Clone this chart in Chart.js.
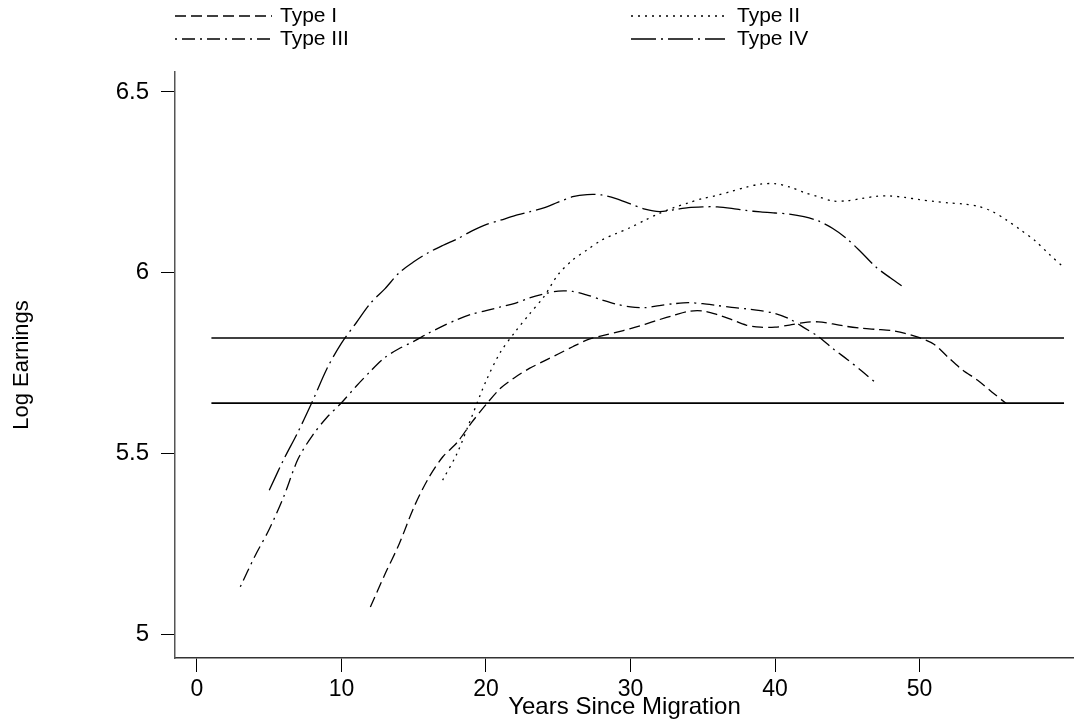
<!DOCTYPE html>
<html>
<head>
<meta charset="utf-8">
<script src="https://cdn.jsdelivr.net/npm/chart.js@4"></script>
<style>
  html, body { margin: 0; padding: 0; background: #fff; }
  #wrap { width: 1074px; height: 724px; }
</style>
</head>
<body>
<div id="wrap"><canvas id="grafico"></canvas></div>
<script>
// años desde la migración (inicio de cada curva)
const inicioTipo1 = 12;
const inicioTipo2 = 17;
const inicioTipo3 = 3;
const inicioTipo4 = 5;

// log earnings, un valor por año
const tipo1 = [5.075, 5.165, 5.25, 5.35, 5.43, 5.49, 5.53, 5.585, 5.635, 5.68,
    5.71, 5.735, 5.755, 5.775, 5.795, 5.814, 5.825, 5.835, 5.845, 5.857,
    5.87, 5.882, 5.893, 5.894, 5.884, 5.87, 5.855, 5.849, 5.849, 5.855,
    5.862, 5.864, 5.858, 5.851, 5.846, 5.843, 5.84, 5.832, 5.82, 5.802,
    5.765, 5.73, 5.703, 5.67, 5.638];
const tipo2 = [5.426, 5.5, 5.6, 5.7, 5.78, 5.835, 5.885, 5.933, 5.995, 6.035,
    6.063, 6.09, 6.108, 6.125, 6.145, 6.164, 6.18, 6.193, 6.205, 6.214,
    6.225, 6.236, 6.245, 6.246, 6.237, 6.222, 6.21, 6.198, 6.199, 6.205,
    6.211, 6.212, 6.208, 6.202, 6.197, 6.193, 6.19, 6.184, 6.17, 6.146,
    6.118, 6.088, 6.05, 6.014];
const tipo3 = [5.131, 5.215, 5.29, 5.38, 5.485, 5.55, 5.6, 5.64, 5.685, 5.727,
    5.765, 5.79, 5.81, 5.832, 5.852, 5.87, 5.885, 5.895, 5.905, 5.915,
    5.93, 5.941, 5.949, 5.948, 5.938, 5.925, 5.913, 5.905, 5.903, 5.909,
    5.914, 5.917, 5.914, 5.909, 5.904, 5.9, 5.895, 5.887, 5.872, 5.848,
    5.823, 5.79, 5.76, 5.728, 5.694];
const tipo4 = [5.398, 5.483, 5.56, 5.645, 5.735, 5.805, 5.86, 5.915, 5.955, 6.0,
    6.03, 6.055, 6.075, 6.093, 6.115, 6.133, 6.145, 6.158, 6.168, 6.179,
    6.195, 6.21, 6.216, 6.215, 6.205, 6.19, 6.176, 6.169, 6.174, 6.18,
    6.182, 6.182, 6.178, 6.172, 6.168, 6.165, 6.162, 6.155, 6.143, 6.122,
    6.093, 6.055, 6.015, 5.985, 5.957];

// lineas horizontales de referencia
const nivelesRef = [5.819, 5.639];
const rangoRef = [1, 60];

const etiquetas = ['Type I', 'Type II', 'Type III', 'Type IV'];
const ticksX = [0, 10, 20, 30, 40, 50];
const ticksY = [5, 5.5, 6, 6.5];

function aPuntos(inicio, valores) {
    return valores.map((v, i) => ({ x: inicio + i, y: v }));
}

const estilos = [
    [11, 5],
    [2, 5],
    [2, 5, 13, 5],
    [25, 5, 2, 5]
];

const series = [
    aPuntos(inicioTipo1, tipo1),
    aPuntos(inicioTipo2, tipo2),
    aPuntos(inicioTipo3, tipo3),
    aPuntos(inicioTipo4, tipo4)
];

const datasets = series.map((datos, i) => ({
    label: etiquetas[i],
    data: datos,
    borderColor: '#000',
    borderWidth: 1.3,
    borderDash: estilos[i],
    pointRadius: 0,
    tension: 0.3,
    fill: false
}));

nivelesRef.forEach((nivel) => {
    datasets.push({
        label: '',
        data: rangoRef.map((x) => ({ x: x, y: nivel })),
        borderColor: '#000',
        borderWidth: 1.6,
        pointRadius: 0,
        fill: false
    });
});

// leyenda a mano, dos columnas como en el original
const leyenda = {
    id: 'leyenda',
    afterDraw(chart) {
        const ctx = chart.ctx;
        const cols = [[175, 272, 280], [631, 725, 737]];
        const filas = [16, 39];
        ctx.save();
        ctx.font = '21px "Liberation Sans", Arial, sans-serif';
        ctx.fillStyle = '#000';
        ctx.textBaseline = 'middle';
        [0, 1, 2, 3].forEach((k) => {
            const c = cols[k % 2];
            const y = filas[Math.floor(k / 2)];
            ctx.strokeStyle = '#000';
            ctx.lineWidth = 1.3;
            ctx.setLineDash(estilos[k]);
            ctx.beginPath();
            ctx.moveTo(c[0], y);
            ctx.lineTo(c[1], y);
            ctx.stroke();
            ctx.setLineDash([]);
            ctx.fillText(etiquetas[k], c[2], y);
        });
        ctx.restore();
    }
};

const fuente = '"Liberation Sans", Arial, sans-serif';

new Chart(document.getElementById('grafico'), {
    type: 'line',
    data: { datasets: datasets },
    plugins: [leyenda],
    options: {
        responsive: true,
        maintainAspectRatio: false,
        animation: false,
        layout: { padding: { top: 72, left: 0, right: 0, bottom: 0 } },
        plugins: {
            legend: { display: false },
            tooltip: { enabled: false }
        },
        scales: {
            x: {
                type: 'linear',
                min: -1.52,
                max: 60.69,
                afterFit: (s) => { s.height = 66; },
                afterBuildTicks: (s) => { s.ticks = ticksX.map((v) => ({ value: v })); },
                grid: { drawOnChartArea: false, tickLength: 14, color: '#000', lineWidth: 1 },
                border: { color: '#333', width: 1.5 },
                ticks: {
                    color: '#000',
                    padding: 4,
                    maxRotation: 0,
                    font: { family: fuente, size: 23 }
                },
                title: {
                    display: true,
                    text: 'Years Since Migration',
                    color: '#000',
                    font: { family: fuente, size: 24 },
                    padding: { top: 0, bottom: 2 }
                }
            },
            y: {
                min: 4.934,
                max: 6.555,
                afterFit: (s) => { s.width = 175; },
                afterBuildTicks: (s) => { s.ticks = ticksY.map((v) => ({ value: v })); },
                grid: { drawOnChartArea: false, tickLength: 14, color: '#000', lineWidth: 1 },
                border: { color: '#555', width: 1.5 },
                ticks: {
                    color: '#000',
                    padding: 12,
                    font: { family: fuente, size: 24 },
                    callback: (v) => String(v)
                },
                title: {
                    display: true,
                    text: 'Log Earnings',
                    color: '#000',
                    font: { family: fuente, size: 22 },
                    padding: { top: 9, bottom: 0 }
                }
            }
        }
    }
});
</script>
</body>
</html>
